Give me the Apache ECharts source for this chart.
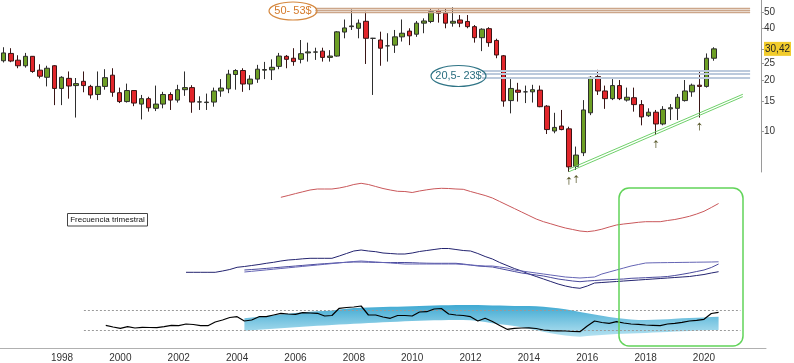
<!DOCTYPE html>
<html><head><meta charset="utf-8">
<script src="https://cdn.jsdelivr.net/npm/echarts@6/dist/echarts.min.js"></script>
<style>html,body{margin:0;padding:0;background:#fff}#c{width:794px;height:363px}</style>
</head><body><div id="c"></div>
<script>
// ---------- categories (quarters) ----------
const quarters = [];
for (let y = 1996; y <= 2022; y++) for (let q = 1; q <= 4; q++) if (quarters.length < 105) quarters.push(y + 'Q' + q);

// ---------- quarterly candles 1996Q1 .. 2020Q3 ----------
const opens = [25.9,28.6,26.1,24.2,27.5,22.8,20.7,24.2,17.8,20.4, 18.5,19.6,18.3,16.4,18.3,21.3,16.8,14.9,17.3,14.4,
  15.5,13.6,14.4,16.4,15.2,17.5,18.0,14.8,14.7,14.8, 17.2,17.7,21.5,22.7,18.9,20.2,22.8,22.9,24.0,27.5,
  26.8,26.4,28.8,29.1,29.5,27.1,27.6,38.2,41.1,40.2, 44.2,35.1,34.3,31.7,32.0,35.8,38.7,37.1,43.1,44.1,
  51.0,49.3,43.1,45.0,44.1,41.1,35.4,40.0,34.1,27.7, 15.1,17.4,17.0,17.0,17.4,14.0,10.0,10.7,10.3,6.2,
  7.45,12.8,20.9,17.2,15.5,18.5,15.2,15.7,14.3,12.3, 12.9,11.0,13.5,13.6,15.1,17.0,18.6,18.3,26.8];
const closes = [28.8,25.8,24.2,27.5,22.4,21.0,23.4,17.8,20.7,18.4, 19.0,18.5,16.3,18.3,20.6,16.9,14.9,17.3,14.6,15.5,
  13.7,14.4,16.4,15.2,17.5,18.0,14.8,14.85,14.8,17.2, 17.9,21.6,22.7,18.9,20.2,23.1,23.0,23.7,27.6,26.4,
  25.6,28.5,29.2,29.2,27.1,27.6,38.3,40.4,41.5,43.1, 35.1,35.1,30.7,31.7,35.8,37.6,36.3,43.1,44.4,50.3,
  49.3,43.1,44.2,43.1,41.1,35.4,39.7,33.1,28.0,15.0, 17.8,16.9,17.0,17.5,13.9,10.2,10.5,10.2,6.15,7.22,
  13.3,20.7,17.2,15.5,18.5,15.5,15.8,14.3,12.1,12.9, 11.0,13.4,13.7,15.8,17.2,18.6,18.3,26.8,30.42];
const lows = [25.3,25.4,23.4,23.6,22.0,20.4,18.3,14.2,14.2,15.5, 12.0,16.9,15.5,15.2,17.5,15.9,14.6,14.7,14.0,11.7,
  13.0,13.1,13.6,13.3,14.7,16.1,12.8,13.3,13.3,13.9, 15.9,16.7,17.5,17.0,17.4,19.2,20.2,19.95,23.1,23.4,
  24.2,25.0,25.6,26.2,25.6,25.6,27.4,35.1,39.3,35.1, 24.8,16.3,24.2,25.6,28.8,33.6,32.0,35.8,37.6,43.1,
  43.4,40.2,41.1,40.8,40.2,33.1,29.5,31.3,26.8,13.9, 12.7,14.9,14.6,14.7,13.8,9.6,9.7,10.1,5.76,5.90,
  7.12,12.4,16.3,13.5,15.2,15.2,14.9,13.0,10.8,12.1, 9.47,10.8,11.6,11.6,14.9,15.9,12.0,18.0,25.9];
const highs = [31.1,30.7,27.9,28.8,27.6,24.7,24.2,24.4,21.0,22.4, 20.5,22.4,18.7,22.4,23.1,23.4,18.0,19.0,17.4,16.3,
  15.9,18.5,17.0,16.9,18.7,22.4,18.6,16.0,16.6,18.0, 20.2,22.9,23.1,23.4,21.3,24.5,25.5,26.4,28.8,28.0,
  30.7,34.3,33.1,30.9,30.9,29.9,38.7,45.3,51.9,45.3, 50.3,35.3,38.4,37.6,39.3,45.3,40.2,44.4,46.0,52.7,
  51.9,52.7,53.4,48.1,48.1,42.0,40.2,40.8,34.9,28.0, 20.2,19.2,18.5,18.7,18.5,14.2,12.8,13.3,10.6,8.1,
  15.2,21.0,22.9,18.5,20.2,19.95,18.0,18.0,15.2,13.6, 13.3,14.0,14.4,16.5,19.95,19.0,22.6,28.6,31.1];

// price axis labels
const priceTicks = [10, 15, 20, 25, 30.42, 40, 50];
const lastPrice = 30.42;
const resistance = [53, 51.5, 50];
const support = [22.7, 21.6, 20.5];
const trendA = [5.76, 15.93];
const trendB = [5.97, 16.45];
const arrowQuarters = ['2015Q3', '2015Q4', '2018Q3', '2020Q1'];
const arrowPrices = [5.76, 5.90, 9.47, 12.0];

// ---------- indicator panes (arbitrary units) ----------
const redStart = 38;
const redLine = [42.7,44.5,46.4,48.2,50,51,51,51,52,53.5,55.5,56.7,55.5,53.5,51.5,50,48.7,48.5,47.5,49,50.2,51.2,51.7,51.5,51,50.7,
  48.5,46.5,44.5,42,38.5,35,31.5,28,24.5,21,18.3,16.2,14,12,10.5,9,8.3,9.2,10.8,13,15,16,16.8,17.7,18.3,18.3,18.3,19.5,20.5,22,23.7,26,28.7,32.5,36.5];
const blueQStart = 25;
const blueQ = [27.7,27.7,27.7,27.7,27.7,29,30.5,32.7,33.5,34.5,35.5,36.7,37.7,39,40,40.5,41.2,41.7,41.7,41.7,41.7,44,46.5,49,50,49,48.3,47,46.5,46,46,47,48.5,49.5,50.5,51.5,51.5,50.5,49.5,49,
  46.5,43.5,41,37.5,34.5,31.5,29,26,23.5,21,18.5,16,14,12.5,11.7,14,17,17.5,18,18.5,19,19.5,20,20.5,21,21.5,22,22.5,23,23.5,24.5,25.5,27,28.3];
const blueRStart = 33;
const blueR = [30,30.5,31,31.6,32.2,32.8,33.4,34,34.6,35.2,35.8,36.3,36.8,37.3,37.7,38,38,37.8,37.6,37.5,37.5,37.5,37.5,37.3,37,36.8,36.7,36.7,36.7,36.7,
  36,35,34,33.5,33,31.5,30,28.5,27,26,25,24,22.5,21,20,19,18.3,19,19.5,20,20.3,20.7,21,21.7,22,22.3,22.7,23,23.5,24.5,25.7,27,28.5,30,32.5,36];
const bluePStart = 33;
const blueP = [28,28.7,29.4,30.1,30.8,31.5,32.2,32.9,33.6,34.3,35,35.7,36.4,37.1,37.8,38.5,39,38.5,38,37.5,37,36.5,36,36,36,36,36,36,36,36,
  35.5,35,34.5,34,34,33,32,30,29,28,27,26,25,24,23,22.5,22,22.5,23,26,28,30,32,34,35.5,37,37.2,37.3,37.4,37.5,37.6,37.7,37.8,37.9,38,38.2];
const blackStart = 14;
const blackLine = [22.7,21,19.7,21.3,20,20.7,20.5,20.3,21.3,22.7,22.3,24,23.5,22.3,22.3,26,28,30.5,31.3,27,28,31.3,31.3,33,34.7,34,33.7,35.3,35,34.7,
  32,32.5,39.7,40.5,41,42,33,33,31,29.7,32.5,32.5,32,36,36.3,39,39.5,34,33,32.5,31.3,27,29.7,26.5,22.5,18.7,19.7,20,20.2,19.5,
  18,17.3,17.2,17,16.5,16.3,22,27,25.5,24.7,26.3,25,24,23.7,23,22.7,22.3,24,24.7,25.7,27,27.7,28.7,34.5,35.7];
const bandStart = 33;
const bandUpper = [29.7,30.5,31.2,32,32.7,33.5,34.2,35,35.7,36.3,36.7,37,37.5,38.5,39.2,40,40.3,40.5,40.8,41,41.2,41.3,41.5,41.7,42,42.3,42.5,42.7,42.8,43,
  43,43,43,42.8,42.6,42.4,42.2,42,42,42,41.7,41.2,40.5,39.8,38.7,37.5,36,34.7,33.5,32.2,31,30,29.2,28.5,28,28,28.2,28.5,28.7,29.2,29.7,30,30.2,30.5,31,31.3];
const bandLower = [17.3,17.8,18.3,18.8,19.2,19.7,20.2,20.7,21.2,21.7,22.2,22.6,23,23.4,23.8,24.2,24.6,25,25.3,25.7,26,26.3,26.7,27,27.2,27.5,27.7,27.8,28,28,
  28,27.7,27,26,24.8,23.7,23,22,20.7,19.2,17.7,16.2,14.7,13.5,12.5,11.7,11.3,12,12.5,13,13.5,14,14.3,14.6,14.8,15,15.4,15.7,16,16.4,16.8,17.1,17.4,17.7,17.9,18];
const refLevels = [38, 18];

// ---------- build ----------
const pad = (start, arr) => Array(start).fill('-').concat(arr);
const candles = opens.map((o, i) => [o, closes[i], lows[i], highs[i]]);
const bandDiff = bandUpper.map((u, i) => +(u - bandLower[i]).toFixed(2));
const FONT = 'Liberation Sans, Arial, sans-serif';
const logMin = 5.74, logMax = 58.97;

const chart = echarts.init(document.getElementById('c'), null, { renderer: 'canvas' });
const hiddenX = (gi) => ({ type: 'category', gridIndex: gi, data: quarters, boundaryGap: true, show: false });

const mkLines = [];
resistance.forEach(v => mkLines.push([{ coord: ['2006Q4', v], lineStyle: { color: '#cca68a', width: 1.3, type: 'solid' } }, { coord: ['2021Q4', v] }]));
support.forEach(v => mkLines.push([{ coord: ['2012Q3', v], lineStyle: { color: '#bccadc', width: 1.8, type: 'solid' } }, { coord: ['2021Q4', v] }]));
[trendA, trendB].forEach(t => mkLines.push([{ coord: ['2015Q3', t[0]], lineStyle: { color: '#6fd06a', width: 1, type: 'solid' } }, { coord: ['2021Q3', t[1]] }]));

chart.setOption({
  animation: false,
  textStyle: { fontFamily: FONT },
  grid: [
    { left: 0, right: 28, top: 0, height: 172 },
    { left: 0, right: 28, top: 180, height: 60 },
    { left: 0, right: 28, top: 240, height: 60 },
    { left: 0, right: 28, top: 298, height: 50 }
  ],
  xAxis: [hiddenX(0), hiddenX(1), hiddenX(2), {
    type: 'category', gridIndex: 3, data: quarters, boundaryGap: true,
    axisLine: { lineStyle: { color: '#b0b0b0' } }, axisTick: { show: false },
    axisLabel: { interval: (i) => i > 0 && i < 100 && i % 8 === 0, formatter: v => v.slice(0, 4), fontSize: 10, color: '#333', margin: 5, fontFamily: FONT }
  }],
  yAxis: [
    { type: 'log', logBase: 10, gridIndex: 0, min: logMin, max: logMax, show: false },
    { type: 'value', gridIndex: 0, position: 'right', min: Math.log10(logMin), max: Math.log10(logMax),
      splitLine: { show: false },
      axisLine: { show: true, lineStyle: { color: '#9a9a9a' } },
      axisTick: { show: true, length: 3, lineStyle: { color: '#9a9a9a' }, customValues: priceTicks.map(Math.log10) },
      axisLabel: { customValues: priceTicks.map(Math.log10), margin: 3, fontSize: 10, color: '#333', fontFamily: FONT,
        formatter: (v) => { const p = Math.pow(10, v); return Math.abs(p - lastPrice) < 0.05 ? '{hl|' + lastPrice.toFixed(2).replace('.', ',') + '}' : String(Math.round(p)); },
        rich: { hl: { backgroundColor: '#f2cc2c', color: '#222', fontSize: 10, padding: [2, 1, 2, 1], fontFamily: FONT } } } },
    { type: 'value', gridIndex: 1, min: 0, max: 60, show: false },
    { type: 'value', gridIndex: 2, min: 0, max: 60, show: false },
    { type: 'value', gridIndex: 3, min: 0, max: 50, show: false }
  ],
  series: [
    { type: 'candlestick', xAxisIndex: 0, yAxisIndex: 0, data: candles, barWidth: 5,
      itemStyle: { color: '#6d9f25', color0: '#e2262b', borderColor: '#2e2e2e', borderColor0: '#3a1515', borderWidth: 1 },
      markLine: { silent: true, symbol: ['none', 'none'], label: { show: false }, lineStyle: { type: 'solid' }, data: mkLines },
      markPoint: { silent: true, symbol: 'path://M5,0 L9,5 L5.6,4 L5.6,14 L4.4,14 L4.4,4 L1,5 Z', symbolSize: [5, 8], symbolOffset: [0, 9],
        itemStyle: { color: '#5d5d30' }, label: { show: false },
        data: arrowQuarters.map((q, i) => ({ coord: [q, arrowPrices[i]] })) } },
    { type: 'line', xAxisIndex: 1, yAxisIndex: 2, data: pad(redStart, redLine), symbol: 'none', lineStyle: { color: '#c9575a', width: 1 } },
    { type: 'line', xAxisIndex: 2, yAxisIndex: 3, data: pad(blueQStart, blueQ), symbol: 'none', lineStyle: { color: '#23236f', width: 1 } },
    { type: 'line', xAxisIndex: 2, yAxisIndex: 3, data: pad(blueRStart, blueR), symbol: 'none', lineStyle: { color: '#4a4a9c', width: 1 } },
    { type: 'line', xAxisIndex: 2, yAxisIndex: 3, data: pad(bluePStart, blueP), symbol: 'none', lineStyle: { color: '#6464b4', width: 1 } },
    { type: 'line', xAxisIndex: 3, yAxisIndex: 4, data: pad(bandStart, bandLower), stack: 'band', symbol: 'none', lineStyle: { opacity: 0 } },
    { type: 'line', xAxisIndex: 3, yAxisIndex: 4, data: pad(bandStart, bandDiff), stack: 'band', symbol: 'none', lineStyle: { opacity: 0 },
      areaStyle: { opacity: 1, color: new echarts.graphic.LinearGradient(0, 0, 0, 1, [{ offset: 0, color: '#3fa9d2' }, { offset: 1, color: '#b5e2f1' }]) } },
    { type: 'line', xAxisIndex: 3, yAxisIndex: 4, data: pad(blackStart, blackLine), symbol: 'none', lineStyle: { color: '#000', width: 1.2 }, z: 5,
      markLine: { silent: true, symbol: ['none', 'none'], label: { show: false }, lineStyle: { color: '#9a9a9a', type: [2, 2], width: 1 },
        data: refLevels.map(v => [{ coord: ['1998Q4', v] }, { coord: ['2021Q2', v] }]) } }
  ],
  graphic: [
    { type: 'ellipse', shape: { cx: 293, cy: 11, rx: 24, ry: 9 }, style: { fill: 'none', stroke: '#d5883f', lineWidth: 1.2 }, z: 50 },
    { type: 'text', x: 293, y: 11, style: { text: '50- 53$', fill: '#d57a2a', font: '11px ' + FONT, align: 'center', verticalAlign: 'middle' }, z: 51 },
    { type: 'ellipse', shape: { cx: 458.5, cy: 76, rx: 27.5, ry: 10.5 }, style: { fill: 'none', stroke: '#2f7486', lineWidth: 1.2 }, z: 50 },
    { type: 'text', x: 458.5, y: 76, style: { text: '20,5- 23$', fill: '#2b6f80', font: '11px ' + FONT, align: 'center', verticalAlign: 'middle' }, z: 51 },
    { type: 'rect', shape: { x: 67.5, y: 213.5, width: 80, height: 12.5 }, style: { fill: '#fff', stroke: '#444', lineWidth: 1 }, z: 50 },
    { type: 'text', x: 107.5, y: 220, style: { text: 'Frecuencia trimestral', fill: '#111', font: '8px ' + FONT, align: 'center', verticalAlign: 'middle' }, z: 51 },
    { type: 'rect', shape: { x: 619, y: 188, width: 124, height: 158, r: 10 }, style: { fill: 'none', stroke: '#62d45a', lineWidth: 1.5 }, z: 60 }
  ]
});
</script></body></html>
